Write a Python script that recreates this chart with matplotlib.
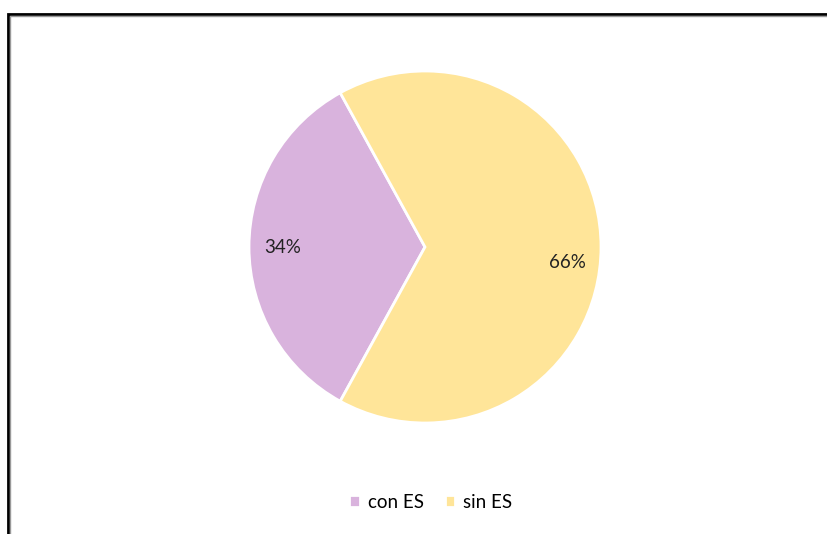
import matplotlib.pyplot as plt
from matplotlib.patches import Rectangle

labels = ['con ES', 'sin ES']
values = [34, 66]
colors = ['#D9B3DD', '#FFE599']

plt.rcParams['font.family'] = ['Lato', 'DejaVu Sans']

W, H = 828, 534
fig = plt.figure(figsize=(W / 100, H / 100), dpi=100)

# frame around the chart area (cut at right and bottom like the screenshot)
fig.patches.append(Rectangle((8 / W, -0.1), 1.2, 1 - 14 / H + 0.1, transform=fig.transFigure,
                             fill=False, ec='black', lw=2))
fig.patches.append(Rectangle((9.5 / W, -0.1), 1.2, 1 - 15.5 / H + 0.1, transform=fig.transFigure,
                             fill=False, ec='#999999', lw=1))

r = 176
cx, cy = 425, 247
ax = fig.add_axes([(cx - r) / W, (H - cy - r) / H, 2 * r / W, 2 * r / H])
wedges, texts, autotexts = ax.pie(values, colors=colors, startangle=118.8, counterclock=True,
                                  autopct='%1.0f%%', pctdistance=0.81,
                                  wedgeprops=dict(edgecolor='white', linewidth=2),
                                  textprops=dict(fontsize=13.5, color='#222222'))
autotexts[1].set_y(autotexts[1].get_position()[1] - 0.09)
ax.set_xlim(-1.0, 1.0)
ax.set_ylim(-1.0, 1.0)
ax.set_aspect('equal')
for w in wedges:
    w.set_clip_on(False)

fig.legend(wedges, labels, loc='center', bbox_to_anchor=(431 / W, 1 - 502 / H), ncol=2,
           frameon=False, fontsize=13.5, handlelength=0.55, handleheight=0.55,
           handletextpad=0.45, columnspacing=1.1)

fig.savefig('out.png', dpi=100, facecolor='white')
